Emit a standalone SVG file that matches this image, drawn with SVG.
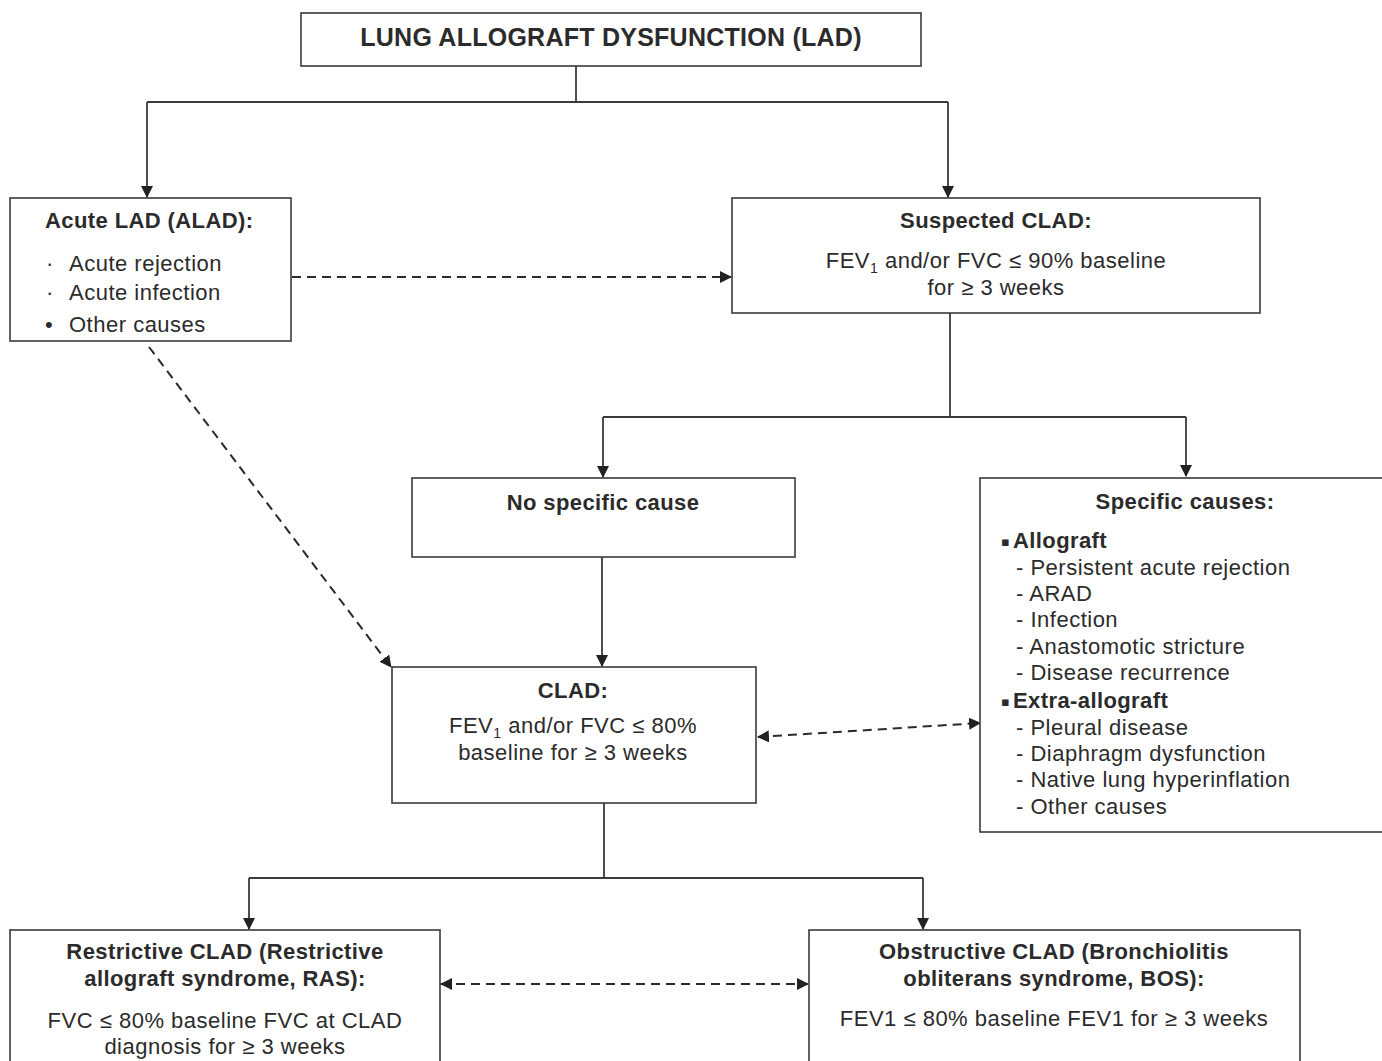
<svg xmlns="http://www.w3.org/2000/svg" width="1382" height="1061" viewBox="0 0 1382 1061">
<style>
.box{fill:#fff;stroke:#3a3a3a;stroke-width:1.6}
.ln{fill:none;stroke:#3a3a3a;stroke-width:1.8}
.dash{fill:none;stroke:#2a2a2a;stroke-width:2;stroke-dasharray:9 6}
text{font-family:"Liberation Sans",Arial,sans-serif;fill:#2b2b2b}
.h{font-size:22px;font-weight:bold;letter-spacing:0.4px}
.t{font-size:22px;letter-spacing:0.5px}
.c{text-anchor:middle}
.title{font-size:25px;font-weight:bold;letter-spacing:0.25px;text-anchor:middle}
.sub{font-size:14px}
.sq{font-family:"DejaVu Sans",sans-serif;font-size:13px}
</style>
<defs>
<marker id="ah" viewBox="0 0 12 12" refX="11" refY="6" markerWidth="12" markerHeight="12" markerUnits="userSpaceOnUse" orient="auto-start-reverse">
<path d="M0,0 L12,6 L0,12 z" fill="#222"/>
</marker>
</defs>
<rect width="1382" height="1061" fill="#fff"/>

<g id="connectors">
<path class="ln" d="M576,66 V102"/>
<path class="ln" d="M147,102 H948"/>
<path class="ln" d="M147,102 V197" marker-end="url(#ah)"/>
<path class="ln" d="M948,102 V197" marker-end="url(#ah)"/>
<path class="dash" d="M292,277 H731" marker-end="url(#ah)"/>
<path class="dash" d="M149,347 L391,667" marker-end="url(#ah)"/>
<path class="ln" d="M950,313 V417"/>
<path class="ln" d="M603,417 H1186"/>
<path class="ln" d="M603,417 V477" marker-end="url(#ah)"/>
<path class="ln" d="M1186,417 V476" marker-end="url(#ah)"/>
<path class="ln" d="M602,557 V666" marker-end="url(#ah)"/>
<path class="dash" d="M758,737 L980,723" marker-start="url(#ah)" marker-end="url(#ah)"/>
<path class="ln" d="M604,803 V878"/>
<path class="ln" d="M249,878 H923"/>
<path class="ln" d="M249,878 V929" marker-end="url(#ah)"/>
<path class="ln" d="M923,878 V929" marker-end="url(#ah)"/>
<path class="dash" d="M441,984 H808" marker-start="url(#ah)" marker-end="url(#ah)"/>
</g>

<g id="lad">
<rect class="box" x="301" y="13" width="620" height="53"/>
<text class="title" x="611" y="46">LUNG ALLOGRAFT DYSFUNCTION (LAD)</text>
</g>

<g id="alad">
<rect class="box" x="10" y="198" width="281" height="143"/>
<text class="h" x="45" y="228">Acute LAD (ALAD):</text>
<text class="t" x="46" y="271">·</text>
<text class="t" x="69" y="271">Acute rejection</text>
<text class="t" x="46" y="300">·</text>
<text class="t" x="69" y="300">Acute infection</text>
<text class="t" x="45" y="332">•</text>
<text class="t" x="69" y="332">Other causes</text>
</g>

<g id="suspected">
<rect class="box" x="732" y="198" width="528" height="115"/>
<text class="h c" x="996" y="228">Suspected CLAD:</text>
<text class="t c" x="996" y="268">FEV<tspan class="sub" dy="5">1</tspan><tspan dy="-5"> and/or FVC ≤ 90% baseline</tspan></text>
<text class="t c" x="996" y="295">for ≥ 3 weeks</text>
</g>

<g id="nospecific">
<rect class="box" x="412" y="478" width="383" height="79"/>
<text class="h c" x="603" y="510">No specific cause</text>
</g>

<g id="specific">
<rect class="box" x="980" y="478" width="420" height="354"/>
<text class="h c" x="1185" y="509">Specific causes:</text>
<text class="sq" x="1001" y="546">▪</text>
<text class="h" x="1013" y="548">Allograft</text>
<text class="t" x="1016" y="575">- Persistent acute rejection</text>
<text class="t" x="1016" y="601">- ARAD</text>
<text class="t" x="1016" y="627">- Infection</text>
<text class="t" x="1016" y="654">- Anastomotic stricture</text>
<text class="t" x="1016" y="680">- Disease recurrence</text>
<text class="sq" x="1001" y="706">▪</text>
<text class="h" x="1013" y="708">Extra-allograft</text>
<text class="t" x="1016" y="735">- Pleural disease</text>
<text class="t" x="1016" y="761">- Diaphragm dysfunction</text>
<text class="t" x="1016" y="787">- Native lung hyperinflation</text>
<text class="t" x="1016" y="814">- Other causes</text>
</g>

<g id="clad">
<rect class="box" x="392" y="667" width="364" height="136"/>
<text class="h c" x="573" y="698">CLAD:</text>
<text class="t c" x="573" y="733">FEV<tspan class="sub" dy="5">1</tspan><tspan dy="-5"> and/or FVC ≤ 80%</tspan></text>
<text class="t c" x="573" y="760">baseline for ≥ 3 weeks</text>
</g>

<g id="ras">
<rect class="box" x="10" y="930" width="430" height="140"/>
<text class="h c" x="225" y="959">Restrictive CLAD (Restrictive</text>
<text class="h c" x="225" y="986">allograft syndrome, RAS):</text>
<text class="t c" x="225" y="1028">FVC ≤ 80% baseline FVC at CLAD</text>
<text class="t c" x="225" y="1054">diagnosis for ≥ 3 weeks</text>
</g>

<g id="bos">
<rect class="box" x="809" y="930" width="491" height="140"/>
<text class="h c" x="1054" y="959">Obstructive CLAD (Bronchiolitis</text>
<text class="h c" x="1054" y="986">obliterans syndrome, BOS):</text>
<text class="t c" x="1054" y="1026">FEV1 ≤ 80% baseline FEV1 for ≥ 3 weeks</text>
</g>
</svg>
